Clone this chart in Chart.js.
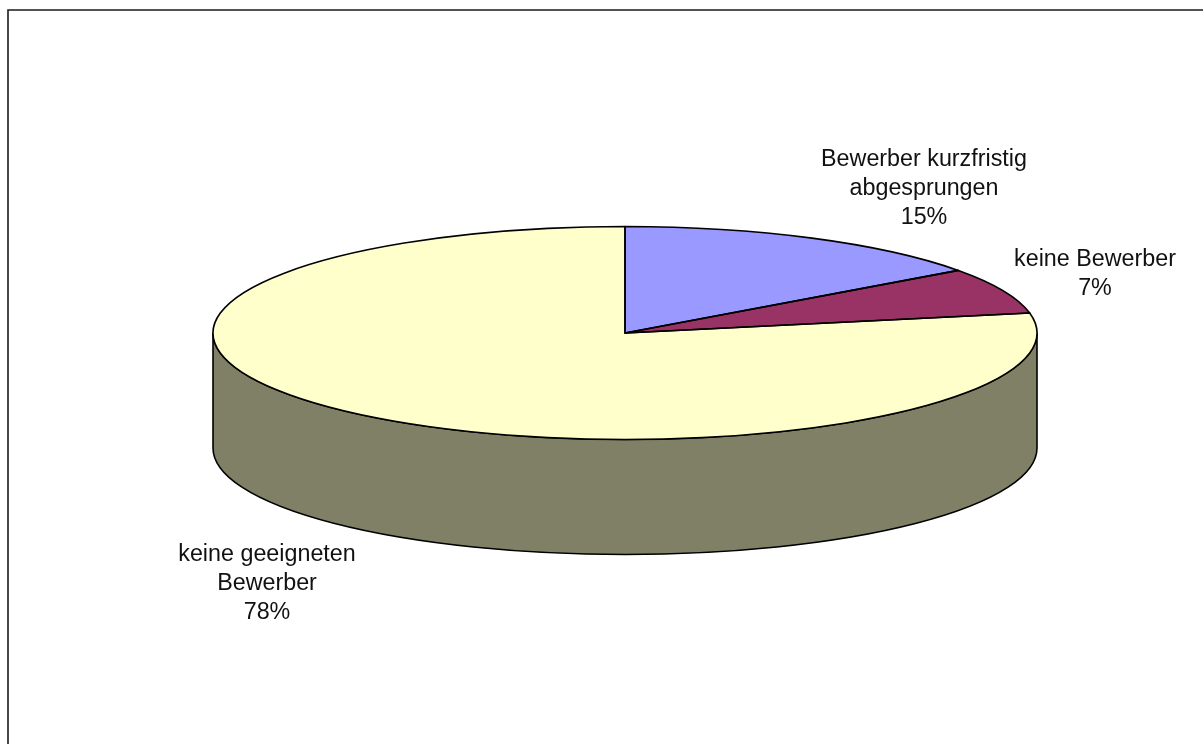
<!DOCTYPE html>
<html><head><meta charset="utf-8">
<style>html,body{margin:0;padding:0;background:#fff;overflow:hidden}#w{position:absolute;left:0;top:0;width:1203px;height:744px}</style>
<script src="https://cdn.jsdelivr.net/npm/chart.js@4/dist/chart.umd.min.js"></script>
</head><body><div id="w"><canvas id="c" width="1203" height="744"></canvas></div>
<script>
const categories = ['Bewerber kurzfristig abgesprungen', 'keine Bewerber', 'keine geeigneten Bewerber'];
const values = [15, 7, 78];
const sliceColors = ['#9999FF', '#993366', '#FFFFCC'];
const sideColors = ['#4D4D80', '#4D1A33', '#808066'];
const labelLines = [['Bewerber kurzfristig', 'abgesprungen', '15%'], ['keine Bewerber', '7%'], ['keine geeigneten', 'Bewerber', '78%']];
const labelAnchors = [[924, 160], [1095, 260], [267, 555]];

const CX = 625, CY = 333, RX = 412, RY = 106.5, DEPTH = 115, LW = 1.6;
const tilt = {
  id: 'tilt',
  beforeDatasetsDraw(chart) {
    const ctx = chart.ctx, arcs = chart.getDatasetMeta(0).data, a0 = arcs[0];
    const R = a0.outerRadius, cx = a0.x, cy = a0.y;
    arcs.forEach((a, i) => {
      const s = Math.max(a.startAngle, 0), e = Math.min(a.endAngle, Math.PI);
      if (e <= s) return;
      ctx.save();
      ctx.beginPath();
      ctx.ellipse(CX, CY, RX, RY, 0, s, e);
      ctx.ellipse(CX, CY + DEPTH, RX, RY, 0, e, s, true);
      ctx.closePath();
      ctx.fillStyle = sideColors[i];
      ctx.fill();
      ctx.strokeStyle = '#000';
      ctx.lineWidth = LW;
      ctx.stroke();
      ctx.restore();
    });
    ctx.save();
    ctx.translate(CX, CY);
    ctx.scale(RX / R, RY / R);
    ctx.translate(-cx, -cy);
  },
  afterDatasetsDraw(chart) {
    const ctx = chart.ctx, arcs = chart.getDatasetMeta(0).data;
    ctx.restore();
    ctx.save();
    ctx.strokeStyle = '#000';
    ctx.lineWidth = LW;
    ctx.lineJoin = 'round';
    arcs.forEach(a => {
      ctx.beginPath();
      ctx.moveTo(CX, CY);
      ctx.ellipse(CX, CY, RX, RY, 0, a.startAngle, a.endAngle);
      ctx.closePath();
      ctx.stroke();
    });
    ctx.restore();
  },
  afterDraw(chart) {
    const ctx = chart.ctx;
    ctx.save();
    ctx.strokeStyle = '#1a1a1a';
    ctx.lineWidth = 1.6;
    ctx.beginPath();
    ctx.moveTo(8, 744);
    ctx.lineTo(8, 10);
    ctx.lineTo(1203, 10);
    ctx.stroke();
    ctx.fillStyle = '#111';
    ctx.font = '23.3px "Liberation Sans", Arial, sans-serif';
    ctx.textAlign = 'center';
    ctx.textBaseline = 'middle';
    labelLines.forEach((lines, i) => {
      lines.forEach((t, j) => ctx.fillText(t, labelAnchors[i][0], labelAnchors[i][1] + j * 29));
    });
    ctx.restore();
  }
};
const R0 = 300;
new Chart(document.getElementById('c'), {
  type: 'pie',
  data: { labels: categories, datasets: [{ data: values, backgroundColor: sliceColors, borderWidth: 0 }] },
  options: {
    responsive: false, animation: false,
    layout: { padding: { left: CX - R0, right: 1203 - CX - R0, top: CY - R0, bottom: 744 - CY - R0 } },
    plugins: { legend: { display: false }, tooltip: { enabled: false } }
  },
  plugins: [tilt]
});
</script></body></html>
